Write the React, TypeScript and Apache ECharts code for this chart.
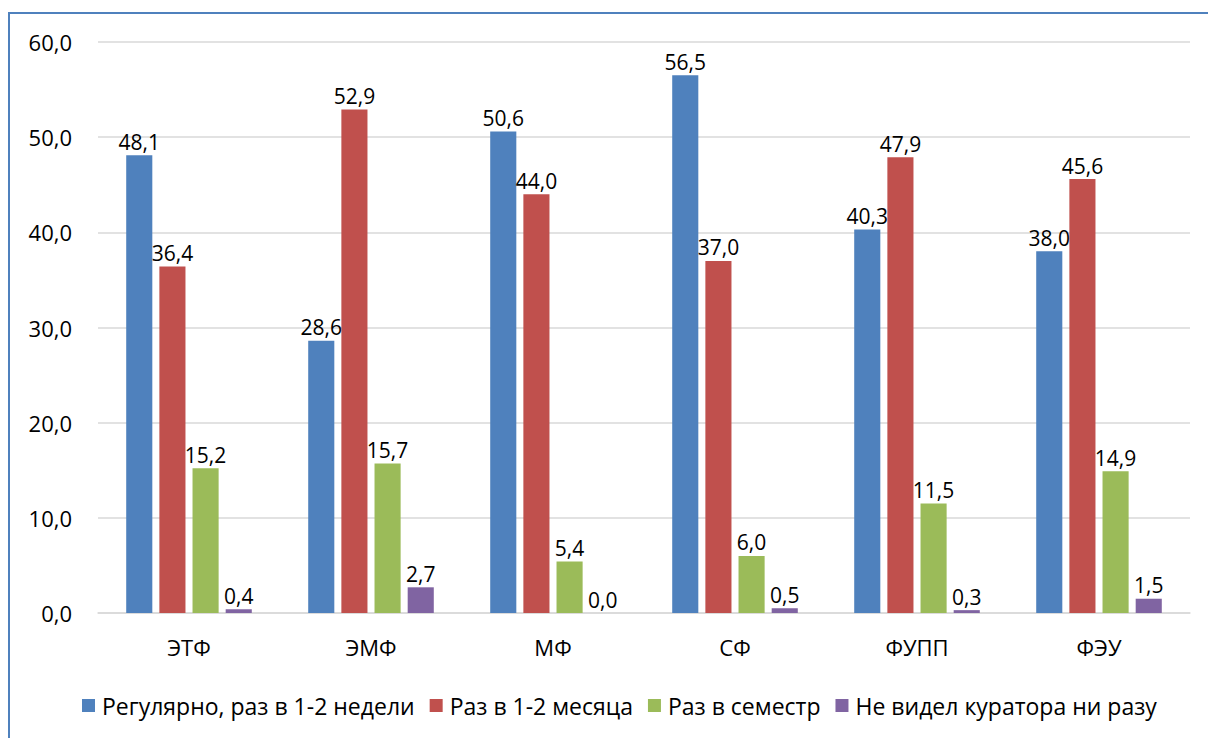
import React, { useEffect, useRef } from "react";
import * as echarts from "echarts";

const categories = ["ЭТФ", "ЭМФ", "МФ", "СФ", "ФУПП", "ФЭУ"];
const seriesNames = [
  "Регулярно, раз в 1-2 недели",
  "Раз в 1-2 месяца",
  "Раз в семестр",
  "Не видел куратора ни разу",
];
const regular = [48.1, 28.6, 50.6, 56.5, 40.3, 38.0];
const monthly = [36.4, 52.9, 44.0, 37.0, 47.9, 45.6];
const semester = [15.2, 15.7, 5.4, 6.0, 11.5, 14.9];
const never = [0.4, 2.7, 0.0, 0.5, 0.3, 1.5];
const colors = ["#4f81bd", "#c0504d", "#9bbb59", "#8064a2"];

const fmt = (v: number) => v.toFixed(1).replace(".", ",");
const FONT = "'Open Sans', 'Noto Sans', sans-serif";

export default function App() {
  const ref = useRef<HTMLDivElement>(null);
  useEffect(() => {
    if (!ref.current) return;
    const chart = echarts.init(ref.current, undefined, { renderer: "svg" });
    const data = [regular, monthly, semester, never];
    chart.setOption({
      animation: false,
      backgroundColor: "#ffffff",
      textStyle: { fontFamily: FONT },
      graphic: [
        {
          type: "rect",
          shape: { x: 9, y: 13, width: 1240, height: 780 },
          style: { fill: "none", stroke: "#4f81bd", lineWidth: 2 },
          silent: true,
        },
      ],
      grid: { left: 98, right: 18, top: 42, bottom: 125, containLabel: false },
      legend: {
        top: 689,
        left: 77,
        itemWidth: 13,
        itemHeight: 13,
        itemGap: 15,
        icon: "rect",
        textStyle: { fontSize: 23, color: "#000", fontFamily: FONT, padding: [0, 0, 0, 2] },
        data: seriesNames,
      },
      xAxis: {
        type: "category",
        data: categories,
        axisLine: { lineStyle: { color: "#d9d9d9", width: 1.5 } },
        axisTick: { show: false },
        axisLabel: { fontSize: 22, color: "#000", margin: 23, fontFamily: FONT },
      },
      yAxis: {
        type: "value",
        min: 0,
        max: 60,
        interval: 10,
        axisLine: { show: false },
        axisTick: { show: false },
        splitLine: { lineStyle: { color: "#d9d9d9", width: 1.5 } },
        axisLabel: {
          fontSize: 22,
          color: "#000",
          margin: 26,
          fontFamily: FONT,
          formatter: (v: number) => fmt(v),
        },
      },
      series: seriesNames.map((name, i) => ({
        name,
        type: "bar",
        data: data[i],
        barGap: "27%",
        barCategoryGap: "31%",
        itemStyle: { color: colors[i] },
        label: {
          show: true,
          position: "top",
          distance: 3,
          fontSize: 21,
          color: "#000",
          fontFamily: FONT,
          formatter: (p: any) => fmt(p.value),
        },
      })),
    });
    return () => chart.dispose();
  }, []);
  return (
    <div
      ref={ref}
      style={{ position: "fixed", left: 0, top: 0, width: 1208, height: 738 }}
    />
  );
}
